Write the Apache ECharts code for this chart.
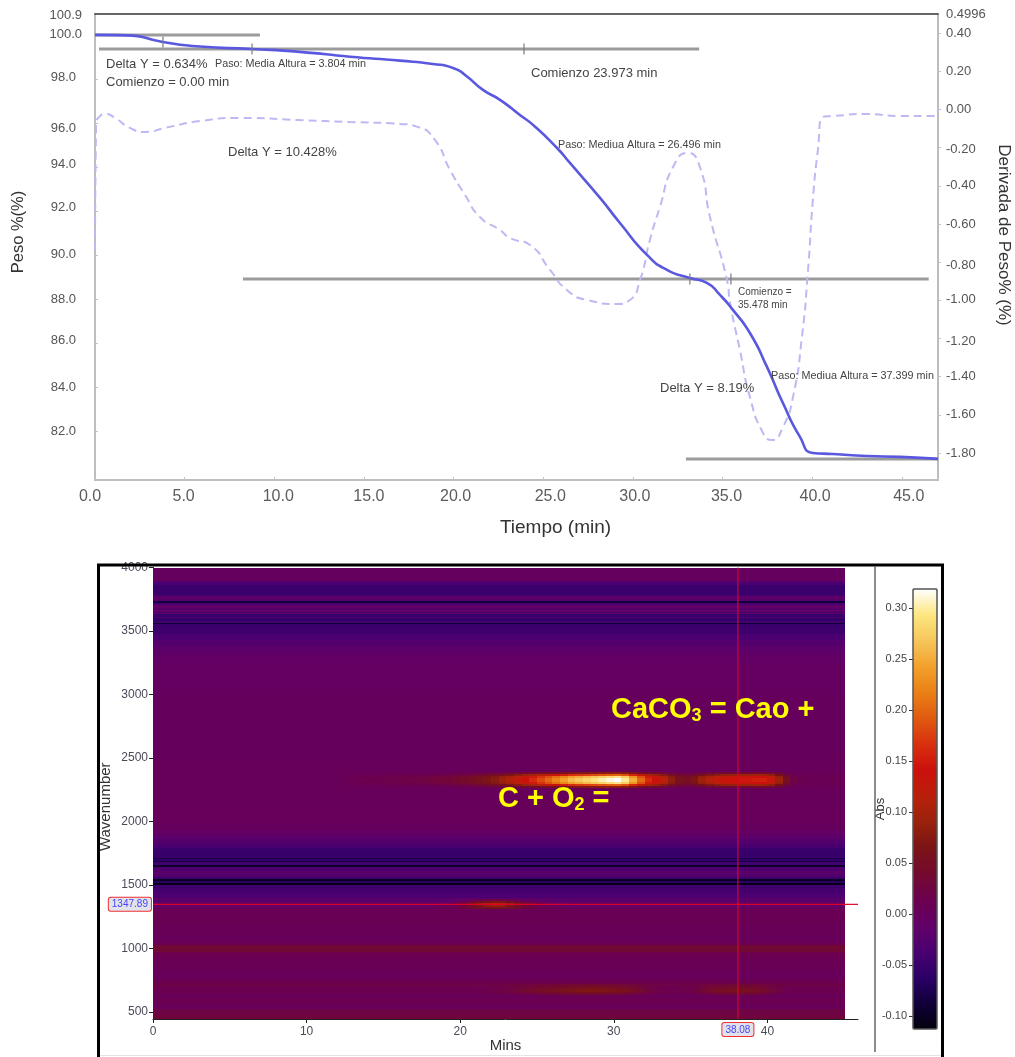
<!DOCTYPE html>
<html>
<head>
<meta charset="utf-8">
<script src="https://cdn.jsdelivr.net/npm/echarts@6/dist/echarts.min.js"></script>
<style>html,body{margin:0;padding:0;background:#fff}#c{width:1015px;height:1057px}</style>
</head>
<body>
<div id="c"></div>
<script>
// ---------- TGA panel ----------
const weightTime = [0,1.78,3.79,5.86,8.76,11.43,14.22,17.01,18.85,19.97,20.64,21.64,22.59,23.7,24.43,25.77,26.49,28.17,29.28,30.79,31.9,33.18,34.13,34.86,35.58,36.53,37.48,38.37,39.32,40.04,41.16,43.06,44.9,47.02];
const weightPct  = [100,99.98,99.68,99.47,99.36,99.23,99.01,98.83,98.68,98.5,98.18,97.5,97.05,96.36,95.91,94.86,94.18,92.59,91.45,90,89.32,88.95,88.73,88.18,87.5,86.45,84.91,83.27,81.73,81,80.95,80.86,80.82,80.73];
const derivTime  = [0,0.06,0.28,0.56,1.12,1.95,2.79,3.9,5.86,8.09,11.43,14.22,17.01,18.01,18.96,19.8,20.64,21.47,22.59,23.15,24.26,25.38,26.32,27.44,29.11,29.84,30.4,30.95,31.51,32.24,33.07,33.74,34.3,35.25,35.42,35.97,36.53,37.26,37.76,38.37,38.93,39.43,39.77,40.04,40.32,40.6,41.16,43.06,44.9,46.74,47.02];
const derivPct   = [-0.737,-0.082,-0.035,-0.024,-0.045,-0.097,-0.118,-0.097,-0.061,-0.045,-0.056,-0.066,-0.076,-0.092,-0.16,-0.317,-0.448,-0.564,-0.632,-0.674,-0.71,-0.841,-0.946,-0.998,-1.019,-0.998,-0.894,-0.684,-0.511,-0.302,-0.228,-0.302,-0.564,-0.894,-1.014,-1.26,-1.507,-1.695,-1.732,-1.664,-1.507,-1.192,-0.841,-0.475,-0.213,-0.04,-0.035,-0.024,-0.035,-0.035,-0.003];
const baselineA = [[0,100],[9.2,100]];
const baselineB = [[0.22,99.36],[33.7,99.36]];
const baselineC = [[8.25,88.91],[46.5,88.91]];
const baselineD = [[32.96,80.73],[47.02,80.73]];
const stepMarkTime = [3.79,8.76,23.93,33.18,35.47];
const stepMarkPct  = [99.68,99.36,99.36,88.91,88.91];
const timeTicks = ['0.0','5.0','10.0','15.0','20.0','25.0','30.0','35.0','40.0','45.0'];
const weightTicks = [100.9,100,98,96,94,92,90,88,86,84,82];
const derivTicks = [0.4996,0.4,0.2,0,-0.2,-0.4,-0.6,-0.8,-1,-1.2,-1.4,-1.6,-1.8];

// ---------- Gram-Schmidt / FTIR panel ----------
const wnTop = [4000,3960,3920,3905,3885,3860,3780,3765,3750,3735,3722,3705,3680,3662,3650,3640,3630,3610,3600,3580,3565,3552,3520,3480,3430,3380,3320,3250,3000,2500,2400,2100,1990,1930,1900,1860,1820,1790,1760,1712,1702,1692,1684,1655,1642,1610,1580,1560,1545,1535,1515,1498,1480,1440,1400,1360,1320,1250,1200,1100,1060,1030,1000,970,930,820,760,730,700,640,610,560,520,480];
const wnBaseline = [-0.002,-0.004,0.004,-0.016,-0.036,-0.05,-0.032,-0.008,-0.024,-0.085,-0.04,-0.012,-0.025,-0.01,-0.042,-0.012,-0.05,-0.03,-0.056,-0.042,-0.09,-0.05,-0.047,-0.037,-0.026,-0.016,-0.009,-0.003,0,0.002,0.002,0.003,0,-0.006,-0.015,-0.027,-0.038,-0.05,-0.052,-0.078,-0.056,-0.082,-0.044,-0.095,-0.032,-0.02,-0.028,-0.048,-0.1,-0.065,-0.105,-0.048,-0.042,-0.033,-0.02,-0.008,0.008,0.01,0.006,0.002,0.01,0.035,0.035,0.015,0.008,0.003,0.012,0.02,0.012,0.005,0.012,0.005,0.022,0.028];
const wnFloor = 445, wnCeil = 4000, timeEnd = 45.05, stepMin = 0.5;
const co2Edges = [2392,2376,2360,2344,2328,2312,2296,2280,2264];
const co2Shape = [0.25,0.62,0.92,1,1,0.92,0.62,0.25];
const co2Start = 12;
const co2Profile = [.005,.007,.01,.011,.012,.013,.015,.016,.018,.019,.02,.022,.025,.027,.03,.034,.04,.045,.055,.065,.075,.09,.105,.125,.14,.16,.18,.2,.22,.24,.26,.27,.28,.29,.3,.31,.318,.295,.25,.2,.16,.14,.115,.08,.055,.05,.065,.09,.11,.125,.135,.14,.145,.145,.15,.15,.13,.09,.05,.02,.01,.008,.008,.008,.008,.008];
const band1347Edges = [1392,1376,1360,1344,1328,1312];
const band1347Shape = [0.35,0.75,1,0.8,0.4];
const band1347Start = 18;
const band1347Profile = [0,.005,.01,.02,.04,.065,.09,.11,.12,.115,.095,.07,.05,.035,.02,.012,.006,.003];
const band660Edges = [720,704,688,672,656,640,624];
const band660Shape = [0.3,0.6,0.9,1,0.7,0.35];
const band660Start = 21;
const band660Profile = [.002,.004,.007,.01,.014,.02,.025,.03,.035,.04,.043,.047,.052,.055,.058,.058,.056,.053,.05,.044,.036,.026,.016,.009,.005,.003,.004,.006,.011,.019,.03,.037,.041,.044,.046,.042,.038,.03,.021,.01,.004];
const crossTime = 38.08, crossWn = 1347.89;
const gsTimeTicks = [0,10,20,30,40];
const gsWnTicks = [500,1000,1500,2000,2500,3000,3500,4000];
const absTicks = [-0.1,-0.05,0,0.05,0.1,0.15,0.2,0.25,0.3];
const absMin = -0.1127, absMax = 0.3186;
const heatColors = ['#04000c','#10003a','#2c0068','#4a0070','#620068','#6c0050','#730a2e','#7a1416','#9a220c','#b8200a','#cc100c','#d8300f','#e05a10','#ea8015','#f2a02c','#f6c65a','#fde680','#ffffff'];

// ---------- build cells from the tables above ----------
const cells = [];
wnTop.forEach((top, i) => {
  const bot = i + 1 < wnTop.length ? wnTop[i + 1] : wnFloor;
  cells.push([0, timeEnd, top, bot, wnBaseline[i]]);
});
function baseAt(w) {
  for (let i = wnTop.length - 1; i >= 0; i--) if (w <= wnTop[i] && (i + 1 === wnTop.length || w > wnTop[i + 1])) return wnBaseline[i];
  return 0;
}
function addBand(edges, shape, start, profile) {
  shape.forEach((s, r) => {
    const base = baseAt((edges[r] + edges[r + 1]) / 2);
    profile.forEach((p, c) => {
      const t0 = start + c * stepMin;
      cells.push([t0, Math.min(t0 + stepMin, timeEnd), edges[r], edges[r + 1], base + s * p]);
    });
  });
}
addBand(band660Edges, band660Shape, band660Start, band660Profile);
addBand(band1347Edges, band1347Shape, band1347Start, band1347Profile);
addBand(co2Edges, co2Shape, co2Start, co2Profile);

// ---------- label nudges (blurred source labels sit off their ticks) ----------
const leftDy = {'96.0':6,'92.0':-3,'94.0':-2,'98.0':-1,'86.0':-3};
const rightDy = {'-0.20':2,'-0.80':3,'-1.00':-1,'-1.20':3};
const xDx = {'0.0':-5,'5.0':-1,'10.0':4,'15.0':5,'20.0':2,'25.0':7,'30.0':2,'35.0':4,'40.0':3,'45.0':7};
const key = s => 'k' + s.replace('-', 'm').replace('.', 'p');
function pad(dx, dy) {
  return [dy > 0 ? 2 * dy : 0, dx < 0 ? -2 * dx : 0, dy < 0 ? -2 * dy : 0, dx > 0 ? 2 * dx : 0];
}
const leftRich = {}, rightRich = {}, xRich = {};
const leftStrs = weightTicks.map(v => v.toFixed(1));
const rightStrs = derivTicks.map(v => v === 0.4996 ? '0.4996' : v.toFixed(2));
leftStrs.forEach(s => { leftRich[key(s)] = {fontSize:13,color:'#555',fontFamily:'Liberation Sans',padding:[(leftDy[s]>0?2*leftDy[s]:0),(s.startsWith('100')?0:6),(leftDy[s]<0?-2*leftDy[s]:0),0]}; });
rightStrs.forEach(s => { rightRich[key(s)] = {fontSize:13,color:'#555',fontFamily:'Liberation Sans',padding:pad(0,rightDy[s]||0)}; });
timeTicks.forEach(s => { xRich[key(s)] = {fontSize:16,color:'#5c5c5c',fontFamily:'Liberation Sans',padding:pad(xDx[s]||0,0)}; });

const tagStyle = {show:true,color:'#4646ff',fontSize:10,fontFamily:'Liberation Sans',backgroundColor:'#e2e2ea',borderColor:'#ee3030',borderWidth:1,borderRadius:2,padding:[2,3,1,3]};
const baseLine = d => ({type:'line',xAxisIndex:0,yAxisIndex:0,data:d,symbol:'none',z:2,lineStyle:{color:'#9b9b9b',width:3},silent:true});

const ann = (x,y,text,size,color) => ({type:'text',x,y,z:50,style:{text,fill:color||'#444',font:size+'px "Liberation Sans"',textVerticalAlign:'middle'}});
const yellowRich = {a:{fill:'#ffff00',color:'#ffff00',fontSize:29,fontWeight:'bold',fontFamily:'Liberation Sans'},s:{fill:'#ffff00',color:'#ffff00',fontSize:18,fontWeight:'bold',fontFamily:'Liberation Sans',verticalAlign:'bottom',padding:[12,0,0,0]}};

const chart = echarts.init(document.getElementById('c'), null, {width:1015,height:1057});
chart.setOption({
  animation:false,
  backgroundColor:'#fff',
  grid:[
    {left:95,top:14,width:843,height:466,outerBoundsMode:'none'},
    {left:153,top:567.5,width:705,height:451.5,outerBoundsMode:'none'},
    {left:913,top:589,width:24,height:440,outerBoundsMode:'none'}
  ],
  xAxis:[
    {gridIndex:0,type:'value',min:0,max:47.02,interval:5,splitLine:{show:false},
     name:'Tiempo (min)',nameLocation:'middle',nameGap:38,nameMoveOverlap:false,nameTextStyle:{fontSize:19,color:'#333',fontFamily:'Liberation Sans',padding:[0,0,0,78]},
     axisLine:{onZero:false,lineStyle:{color:'#bdbdbd',width:2}},axisTick:{inside:true,length:3,lineStyle:{color:'#c4c4c4'}},
     axisLabel:{margin:9,rich:xRich,showMaxLabel:true,formatter:v=>{const s=v.toFixed(1);return timeTicks.includes(s)?'{'+key(s)+'|'+s+'}':'';}}},
    {gridIndex:0,type:'value',position:'top',min:0,max:47.02,splitLine:{show:false},axisTick:{show:false},axisLabel:{show:false},axisLine:{onZero:false,lineStyle:{color:'#333',width:1.5}}},
    {gridIndex:1,type:'value',min:0,max:45.9,splitLine:{show:false},
     name:'Mins',nameLocation:'middle',nameGap:19,nameMoveOverlap:false,nameTextStyle:{fontSize:15,color:'#333',fontFamily:'Liberation Sans'},
     axisLine:{onZero:false,lineStyle:{color:'#222',width:1}},axisTick:{length:4,lineStyle:{color:'#222'},customValues:gsTimeTicks},
     axisLabel:{margin:7,fontSize:12,color:'#4a4a5a',fontFamily:'Liberation Sans',customValues:gsTimeTicks,formatter:v=>String(v)}},
    {gridIndex:2,type:'value',min:0,max:1,show:false}
  ],
  yAxis:[
    {gridIndex:0,type:'value',position:'left',min:79.77,max:100.95,splitLine:{show:false},
     name:'Peso %(%)',nameLocation:'middle',nameGap:68,nameMoveOverlap:false,nameTextStyle:{fontSize:16.5,color:'#333',fontFamily:'Liberation Sans',padding:[0,0,0,30]},
     axisLine:{show:true,onZero:false,lineStyle:{color:'#bdbdbd',width:2}},axisTick:{inside:true,length:3,lineStyle:{color:'#c4c4c4'},customValues:weightTicks.slice(1)},
     axisLabel:{margin:13,hideOverlap:false,rich:leftRich,customValues:weightTicks,formatter:v=>{const s=v.toFixed(1);return '{'+key(s)+'|'+s+'}';}}},
    {gridIndex:0,type:'value',position:'right',min:-1.941,max:0.4996,splitLine:{show:false},
     name:'Derivada de Peso% (%)',nameLocation:'middle',nameGap:57,nameMoveOverlap:false,nameRotate:-90,nameTextStyle:{fontSize:17,color:'#333',fontFamily:'Liberation Sans',padding:[0,24,0,0]},
     axisLine:{show:true,onZero:false,lineStyle:{color:'#bdbdbd',width:2}},axisTick:{inside:false,length:3,lineStyle:{color:'#c4c4c4'},customValues:derivTicks.slice(1)},
     axisLabel:{margin:8,hideOverlap:false,rich:rightRich,customValues:derivTicks,formatter:v=>{const s=v===0.4996?'0.4996':v.toFixed(2);return '{'+key(s)+'|'+s+'}';}}},
    {gridIndex:1,type:'value',min:wnFloor,max:wnCeil,splitLine:{show:false},
     name:'Wavenumber',nameLocation:'middle',nameGap:40,nameMoveOverlap:false,nameTextStyle:{fontSize:15,color:'#333',fontFamily:'Liberation Sans',padding:[0,27,0,0]},
     axisLine:{show:true,onZero:false,lineStyle:{color:'#222',width:1}},axisTick:{length:4,lineStyle:{color:'#222'},customValues:gsWnTicks},
     axisLabel:{margin:5,fontSize:12,color:'#4a4a5a',fontFamily:'Liberation Sans',hideOverlap:false,customValues:gsWnTicks,formatter:v=>String(v)}},
    {gridIndex:2,type:'value',position:'left',min:absMin,max:absMax,splitLine:{show:false},
     name:'Abs',nameLocation:'middle',nameGap:26,nameMoveOverlap:false,nameTextStyle:{fontSize:13,color:'#333',fontFamily:'Liberation Sans'},
     axisLine:{show:false,onZero:false},axisTick:{show:true,length:4,lineStyle:{color:'#333'},customValues:absTicks},
     axisLabel:{margin:6,fontSize:11,color:'#444',fontFamily:'Liberation Sans',hideOverlap:false,customValues:absTicks,formatter:v=>v.toFixed(2)}}
  ],
  visualMap:{type:'continuous',seriesIndex:0,dimension:4,min:absMin,max:absMax,left:913,top:589,itemWidth:24,itemHeight:440,padding:0,calculable:false,realtime:false,text:null,showLabel:false,inRange:{color:heatColors},outOfRange:{color:'#000'},z:20},
  series:[
    {type:'custom',xAxisIndex:2,yAxisIndex:2,coordinateSystem:'cartesian2d',data:cells,encode:{x:[0,1],y:[2,3]},clip:true,silent:true,z:1,
     renderItem:(params,api)=>{
       const a=api.coord([api.value(0),api.value(2)]), b=api.coord([api.value(1),api.value(3)]);
       const x=Math.round(a[0]), y=Math.round(a[1]), w=Math.round(b[0])-x, h=Math.max(1,Math.round(b[1])-y);
       return {type:'rect',shape:{x,y,width:w,height:h},style:{fill:api.visual('color')}};
     }},
    {type:'line',xAxisIndex:2,yAxisIndex:2,z:5,silent:true,symbol:'circle',symbolSize:0.1,showSymbol:true,showAllSymbol:true,itemStyle:{color:'transparent'},lineStyle:{color:'rgba(226,0,40,0.95)',width:1.2},
     data:[{value:[0,crossWn],label:Object.assign({},tagStyle,{position:'left',distance:2,formatter:crossWn.toFixed(2)})},[45.9,crossWn]]},
    {type:'line',xAxisIndex:2,yAxisIndex:2,z:5,silent:true,symbol:'circle',symbolSize:0.1,showSymbol:true,showAllSymbol:true,itemStyle:{color:'transparent'},lineStyle:{color:'rgba(226,0,40,0.95)',width:1.2},
     data:[[crossTime,wnCeil],{value:[crossTime,wnFloor],label:Object.assign({},tagStyle,{position:'bottom',distance:4,formatter:crossTime.toFixed(2)})}]},
    baseLine(baselineA),baseLine(baselineB),baseLine(baselineC),baseLine(baselineD),
    {type:'line',name:'Derivada',xAxisIndex:0,yAxisIndex:1,data:derivTime.map((t,i)=>[t,derivPct[i]]),symbol:'none',smooth:0.6,z:3,lineStyle:{color:'#bcb9f3',width:2,type:[8,5]},silent:true},
    {type:'line',name:'Peso',xAxisIndex:0,yAxisIndex:0,data:weightTime.map((t,i)=>[t,weightPct[i]]),symbol:'none',smooth:0.6,z:4,lineStyle:{color:'#5a58de',width:2.6},silent:true},
    {type:'scatter',xAxisIndex:0,yAxisIndex:0,data:stepMarkTime.map((t,i)=>[t,stepMarkPct[i]]),symbol:'rect',symbolSize:[1.5,11],itemStyle:{color:'#7c7c7c'},z:5,silent:true}
  ],
  graphic:{elements:[
    ann(106,64,'Delta Y = 0.634%',13),
    ann(215,64,'Paso: Media Altura = 3.804 min',10.8),
    ann(106,82,'Comienzo = 0.00 min',13),
    ann(228,152,'Delta Y = 10.428%',13),
    ann(531,73,'Comienzo 23.973 min',13),
    ann(558,145,'Paso: Mediua Altura = 26.496 min',10.8),
    ann(738,292,'Comienzo =',10),
    ann(738,305,'35.478 min',10),
    ann(771,376,'Paso: Mediua Altura = 37.399 min',10.8),
    ann(660,388,'Delta Y = 8.19%',13),
    {type:'text',x:611,y:710,z:60,style:{text:'{a|CaCO}{s|3}{a| = Cao +}',rich:yellowRich,textVerticalAlign:'middle'}},
    {type:'text',x:498,y:799,z:60,style:{text:'{a|C + O}{s|2}{a| =}',rich:yellowRich,textVerticalAlign:'middle'}},
    {type:'rect',z:70,shape:{x:98.5,y:565,width:844,height:520},style:{fill:'none',stroke:'#000',lineWidth:3}},
    {type:'line',z:70,shape:{x1:875,y1:566,x2:875,y2:1052},style:{stroke:'#666',lineWidth:1.5}},
    {type:'rect',z:70,shape:{x:913,y:589,width:24,height:440,r:1},style:{fill:'none',stroke:'#555',lineWidth:1.5}},
    {type:'line',z:70,shape:{x1:100,y1:1055.5,x2:941,y2:1055.5},style:{stroke:'#e4e4e4',lineWidth:1}}
  ]}
});
</script>
</body>
</html>
